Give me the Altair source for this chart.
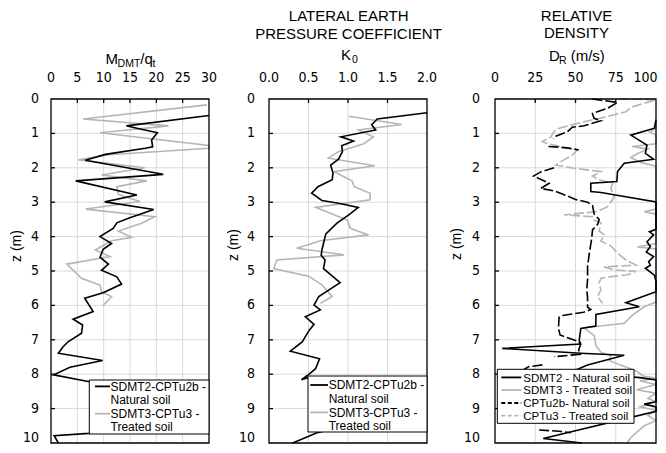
import altair as alt
import pandas as pd

# ---------------- data ----------------
# Panel 1: M_DMT/q_t  (value, depth z)
p1_nat = [(30.0,0.48),(14.3,0.78),(16.3,0.85),(20.2,0.98),(19.1,1.19),(19.3,1.39),(17.9,1.43),(10.3,1.61),(6.5,1.78),
          (21.3,2.19),(4.7,2.38),(16.3,2.79),(10.2,2.99),(19.5,3.21),(14.7,3.47),(12.5,3.6),(11.8,3.76),(9.3,4.0),
          (11.5,4.2),(9.9,4.37),(9.3,4.6),(10.9,4.8),(9.6,4.98),(12.5,5.17),(13.4,5.38),(9.9,5.63),(6.4,5.79),
          (8.0,6.18),(4.2,6.4),(6.0,6.57),(5.8,6.81),(3.3,7.05),(2.3,7.2),(1.4,7.39),(9.8,7.6),(3.6,7.8),(0.5,8.02),
          (7.3,8.22),(16.0,8.6),(22.0,9.1),(14.0,9.5),(7.2,9.72),(0.6,9.79),(1.4,10.0)]
p1_tre = [(29.6,0.17),(6.1,0.58),(22.3,0.78),(9.3,0.98),(33.0,1.35),(32.0,1.43),(11.0,1.62),(5.2,1.77),(17.8,2.0),
          (9.6,2.21),(18.2,2.38),(12.5,2.55),(12.8,2.77),(16.9,2.98),(6.6,3.2),(19.7,3.42),(17.2,3.61),(12.8,3.84),
          (15.3,4.02),(11.5,4.12),(8.4,4.39),(11.2,4.58),(9.3,4.63),(3.0,4.8),(5.8,5.21),(9.3,5.41),(9.6,5.6),
          (11.5,5.75),(9.9,6.0)]
# Panel 2: K0
p2_nat = [(2.2,0.40),(1.37,0.58),(1.30,0.75),(1.35,0.9),(0.91,1.1),(1.07,1.22),(0.92,1.36),(0.93,1.53),(0.88,1.75),
          (0.78,1.92),(0.81,2.15),(0.80,2.35),(0.62,2.55),(0.54,2.74),(0.67,2.95),(0.88,3.03),(1.13,3.15),(1.01,3.37),
          (0.86,3.61),(0.72,3.92),(0.70,4.1),(0.67,4.39),(0.66,4.54),(0.71,4.68),(0.69,4.93),(0.90,5.34),(0.76,5.55),
          (0.63,5.74),(0.57,5.99),(0.65,6.13),(0.46,6.33),(0.57,6.55),(0.51,6.72),(0.42,7.06),(0.27,7.33),(0.64,7.55),
          (0.59,7.84),(0.50,8.01),(0.41,8.16),(0.49,8.1),(1.2,8.6),(1.5,9.2),(0.6,9.71),(0.3,10.0)]
p2_tre = [(1.01,0.5),(1.68,0.74),(1.13,0.9),(1.32,1.1),(1.2,1.3),(0.88,1.53),(0.75,1.72),(1.34,1.94),(0.82,2.11),
          (1.05,2.38),(1.08,2.55),(1.28,2.74),(1.28,2.93),(0.59,3.15),(0.99,3.52),(1.03,3.76),(1.26,3.95),(0.65,4.12),
          (0.35,4.34),(0.95,4.53),(0.10,4.68),(0.06,4.93),(0.50,5.15),(0.67,5.4),(0.80,5.74),(0.65,5.94)]
# Panel 3: D_R  (None = gap in the series)
p3_sdmt2 = [(110,0.6),(99,0.85),(84.4,1.05),(94.4,1.34),(93.4,1.58),(98.5,1.75),(80.3,1.87),(76.1,2.11),(75.7,2.4),
            (59.5,2.45),(59.5,2.69),(65.8,2.72),(100,2.99),(110,3.3),(110,3.6),(100,3.79),(95.9,3.86),(98.5,3.95),
            (94.4,4.15),(96.5,4.29),(94,4.45),(98.5,4.58),(95.4,4.73),(96.5,4.83),(93.4,4.92),(99,5.12),(110,5.3),
            (100,5.6),(81.3,5.92),(89.6,6.04),(62.7,6.26),(62.6,6.6),(53.3,6.67),(52.3,7.02),(53.3,7.12),(4.5,7.25),
            (53.3,7.39),(80.3,7.45),(57.5,7.73),(48,7.92),(70,8.02),(90,8.1),(100,8.17),(110,8.5),(100,8.8),
            (92.7,8.87),(100,8.95),(100,9.08),(30,9.87),(54,10.0)]
p3_sdmt3 = [(110,0.6),(100,0.85),(96,0.95),(100,1.05),(110,1.2),(100,1.3),(85,1.38),(95,1.45),(88,1.6),(84.4,1.7),
            (90.7,1.85),(100,1.95),(110,2.5),(110,3.0),(100,3.2),(92.7,3.28),(100,3.35),(110,3.6),(100,4.2),
            (88.6,4.3),(100,4.36),(110,4.6),(100,4.9),(110,5.3),(100,5.9),(92.7,6.04),(85,6.3),(80.3,6.52),
            (55.4,6.65),(61.6,6.88),(62.7,7.17),(65.8,7.36),(72,7.46),(71,7.6),(76,7.7),(81.3,7.79),(88.6,7.93),
            (92,8.05),(100,8.12),(90,8.2),(100,8.3),(88,8.45),(100,8.55),(95,8.7),(100,8.8),(90,8.95),(100,9.05),
            (95,9.2),(100,9.35),(92.7,9.5),(84.4,9.84),(82,10.0)]
p3_cptu2b = [(60.5,0.0),(76,0.1),(70,0.27),(60.5,0.42),(61.5,0.56),(65.8,0.63),(55.4,0.78),(48,0.82),(45,0.95),
             (37.8,1.08),(36,1.15),None,(33.2,1.38),(40,1.4),(45,1.42),(52,1.48),None,
             (36.7,2.0),(28.4,2.12),(23.9,2.24),(33.6,2.45),(28.4,2.6),(36.7,2.67),(45,2.82),(50,2.92),(57.5,3.0),
             (60.6,3.1),(61.6,3.35),(64.7,3.5),(63.7,3.65),(60.6,3.8),(60,4.07),(58.5,4.52),(57.5,4.86),(57.5,5.25),
             (57,5.54),(57.5,5.78),(57.5,6.05),(59.5,6.12),(55,6.2),(40.9,6.3),(39.8,6.35),(39.4,6.67),(40.4,6.86),
             (51.9,7.05),(53,7.15),(52,7.3),(53,7.42),(36.7,7.49),None,(29.4,7.73),(21,7.78),(15,7.95),None,
             (27.4,9.62),(39.8,9.66),(47,9.7)]
p3_cptu3 = [(77,0.0),(100,0.02),(84.4,0.24),(81.3,0.37),(70,0.51),(55.4,0.66),(47.1,0.76),(39.8,0.85),(36.7,0.95),
            (34.7,1.1),(29.4,1.24),(33,1.3),(38,1.35),(43,1.42),(51.2,1.48),(48.1,1.63),(40.9,1.82),(37.8,1.92),
            (50.2,2.02),(65.8,2.11),(60.6,2.24),(64.7,2.35),(73,2.45),(72,2.6),(74,2.84),(73,2.93),(69.9,3.13),
            (63.7,3.27),(42.9,3.37),(60.6,3.42),(60.6,3.5),(65.8,3.6),(64.7,3.84),(67.8,3.94),(65.8,4.13),(72,4.27),
            (76.1,4.48),(81.3,4.68),(87.6,4.83),(67.8,4.88),(74,4.97),(87.6,5.01),(82.4,5.11),(73,5.16),(65.8,5.21),
            (64.7,5.35),(65.8,5.55),(63.7,5.74),(66.8,5.94)]

p1_ticks = [0, 5, 10, 15, 20, 25, 30]
p2_ticks = [0.0, 0.5, 1.0, 1.5, 2.0]
p3_ticks = [0, 25, 50, 75, 100]
z_ticks = list(range(0, 11))

# ---------------- layout ----------------
W, H = 650, 437
Y_RANGE = [91, 435]
X_RANGES = [[43, 201], [261, 419], [487, 648]]
BLACK = "#000000"
GRAY = "#b5b5b5"
LABEL_FONT = "Liberation Sans Narrow, Arial Narrow, DejaVu Sans Condensed, Liberation Sans"
TITLE_FONT = "Liberation Sans, Arial"
one = pd.DataFrame({"a": [0]})


def to_df(points):
    rows, seg = [], 0
    for p in points:
        if p is None:
            seg += 1
            continue
        rows.append({"v": p[0], "z": p[1], "seg": seg, "i": len(rows)})
    return pd.DataFrame(rows)


def panel(k, domain, ticks, fmt, series, label_pad, last_right=False):
    xs = alt.Scale(domain=domain, range=X_RANGES[k], clamp=True, nice=False, zero=False)
    ys = alt.Scale(domain=[0, 10], range=Y_RANGE, nice=False, zero=False)
    X = lambda f: alt.X(f, scale=xs, axis=None)
    Y = lambda f: alt.Y(f, scale=ys, axis=None)
    layers = []
    # grid
    vg = pd.DataFrame({"v": ticks[1:-1], "z0": 0, "z1": 10})
    layers.append(alt.Chart(vg).mark_rule(color="#d9d9d9", strokeWidth=1).encode(
        x=X("v:Q"), y=Y("z0:Q"), y2="z1:Q"))
    hg = pd.DataFrame({"z": z_ticks[1:-1], "v0": domain[0], "v1": domain[1]})
    layers.append(alt.Chart(hg).mark_rule(color="#d9d9d9", strokeWidth=1).encode(
        x=X("v0:Q"), x2="v1:Q", y=Y("z:Q")))
    # data lines
    for pts, color, dash in series:
        df = to_df(pts)
        mk = dict(color=color, strokeWidth=1.6, strokeJoin="miter")
        if dash:
            mk["strokeDash"] = dash
        layers.append(alt.Chart(df).mark_line(**mk).encode(
            x=X("v:Q"), y=Y("z:Q"), order="i:Q", detail="seg:N"))
    # frame
    fr = pd.DataFrame({"x0": [domain[0]], "x1": [domain[1]], "y0": [0], "y1": [10]})
    layers.append(alt.Chart(fr).mark_rect(fill=None, stroke=BLACK, strokeWidth=1.3).encode(
        x=X("x0:Q"), x2="x1:Q", y=Y("y0:Q"), y2="y1:Q"))
    # inward ticks
    tt = pd.DataFrame({"v": ticks[1:-1]})
    layers.append(alt.Chart(tt).mark_rule(color=BLACK, strokeWidth=1.3).encode(
        x=X("v:Q"), y=alt.value(Y_RANGE[0]), y2=alt.value(Y_RANGE[0] + 4)))
    lt = pd.DataFrame({"z": z_ticks[1:-1]})
    layers.append(alt.Chart(lt).mark_rule(color=BLACK, strokeWidth=1.3).encode(
        y=Y("z:Q"), x=alt.value(X_RANGES[k][0]), x2=alt.value(X_RANGES[k][0] + 4)))
    # x tick labels (top)
    lab = dict(font=LABEL_FONT, fontSize=14, color="black")
    xt = ticks[:-1] if last_right else ticks
    xl = pd.DataFrame({"v": xt, "t": [format(t, fmt) for t in xt]})
    layers.append(alt.Chart(xl).mark_text(align="center", baseline="alphabetic", **lab).encode(
        x=X("v:Q"), y=alt.value(Y_RANGE[0] - 17.3), text="t:N"))
    if last_right:
        xr = pd.DataFrame({"t": [format(ticks[-1], fmt)]})
        layers.append(alt.Chart(xr).mark_text(align="right", baseline="alphabetic", **lab).encode(
            x=alt.value(W - 0.5), y=alt.value(Y_RANGE[0] - 17.3), text="t:N"))
    # y tick labels (left)
    yl = pd.DataFrame({"z": z_ticks[:-1], "t": [str(z) for z in z_ticks[:-1]]})
    layers.append(alt.Chart(yl).mark_text(align="right", baseline="middle", **lab).encode(
        y=Y("z:Q"), x=alt.value(X_RANGES[k][0] - label_pad), text="t:N"))
    yb = pd.DataFrame({"t": [str(z_ticks[-1])]})
    layers.append(alt.Chart(yb).mark_text(align="right", baseline="bottom", **lab).encode(
        y=alt.value(H - 0.5), x=alt.value(X_RANGES[k][0] - label_pad), text="t:N"))
    return alt.layer(*layers)


def txt(t, x, y, size=15, align="left", baseline="alphabetic", angle=0, font=TITLE_FONT):
    props = dict(text=t, fontSize=size, align=align, baseline=baseline, font=font, color="black")
    if angle:
        props["angle"] = angle
    return alt.Chart(one).mark_text(**props).encode(x=alt.value(x), y=alt.value(y))


LEG_DASH = [4, 2.5]


def legend(box, sample_x, text_x, rows, size=12):
    x0, y0, x1, y1 = box
    parts = [alt.Chart(one).mark_rect(fill="white", stroke=BLACK, strokeWidth=1).encode(
        x=alt.value(x0), x2=alt.value(x1), y=alt.value(y0), y2=alt.value(y1))]
    for label, y, color, dash in rows:
        if color:
            mk = dict(color=color, strokeWidth=1.8)
            if dash:
                mk["strokeDash"] = LEG_DASH
            parts.append(alt.Chart(one).mark_rule(**mk).encode(
                x=alt.value(sample_x[0]), x2=alt.value(sample_x[1]), y=alt.value(y - 4.3)))
        parts.append(txt(label, text_x, y, size=size, baseline="alphabetic"))
    return parts


DASH = [10, 3]
P1 = panel(0, [0, 30], p1_ticks, "d", [(p1_tre, GRAY, None), (p1_nat, BLACK, None)], 12)
P2 = panel(1, [0, 2], p2_ticks, ".1f", [(p2_tre, GRAY, None), (p2_nat, BLACK, None)], 14)
P3 = panel(2, [0, 100], p3_ticks, "d",
           [(p3_cptu3, GRAY, DASH), (p3_sdmt3, GRAY, None), (p3_cptu2b, BLACK, DASH), (p3_sdmt2, BLACK, None)],
           15, last_right=True)

texts = [
    # panel 1 title M_DMT/q_t
    txt("M", 97.5, 56), txt("DMT", 109.6, 59, size=10.5), txt("/q", 132.3, 56), txt("t", 144.4, 59, size=10.5),
    # panel 2 title
    txt("LATERAL EARTH", 340.7, 13, align="center"),
    txt("PRESSURE COEFFICIENT", 340.5, 31, align="center"),
    txt("K", 333, 52), txt("0", 344, 55, size=10.5),
    # panel 3 title
    txt("RELATIVE", 568.5, 13, align="center"),
    txt("DENSITY", 568.5, 29.5, align="center"),
    txt("D", 541, 52.7), txt("R", 551, 55.5, size=10.5), txt("(m/s)", 562.7, 52.7),
    # y titles
    txt("z (m)", 8.5, 238, size=14, align="center", baseline="middle", angle=270),
    txt("z (m)", 225.7, 237, size=14, align="center", baseline="middle", angle=270),
    txt("z (m)", 449, 236, size=14, align="center", baseline="middle", angle=270),
]

leg1 = legend((81.3, 372, 201, 426), (87, 102), 102.5,
              [("SDMT2-CPTu2b -", 382.7, BLACK, None), ("Natural soil", 396, None, None),
               ("SDMT3-CPTu3 -", 410, GRAY, None), ("Treated soil", 423.3, None, None)])
leg2 = legend((300, 368, 419, 424), (302.3, 320), 320.7,
              [("SDMT2-CPTu2b -", 381.3, BLACK, None), ("Natural soil", 394.7, None, None),
               ("SDMT3-CPTu3 -", 408.7, GRAY, None), ("Treated soil", 422, None, None)])
leg3 = legend((489.3, 361.3, 626, 415.3), (493.3, 513.3), 515.3,
              [("SDMT2 - Natural soil", 373.7, BLACK, None), ("SDMT3 - Treated soil", 386.3, GRAY, None),
               ("CPTu2b- Natural soil", 399.3, BLACK, True), ("CPTu3 - Treated soil", 412, GRAY, True)],
              size=11.5)

chart = alt.layer(P1, P2, P3, *texts, *leg1, *leg2, *leg3).resolve_scale(
    x="independent", y="independent").properties(
    width=W, height=H, padding=0, autosize=alt.AutoSizeParams(type="none"),
    background="white").configure_view(stroke=None)

chart.save("out.html", embed_options={"renderer": "svg", "actions": False})
